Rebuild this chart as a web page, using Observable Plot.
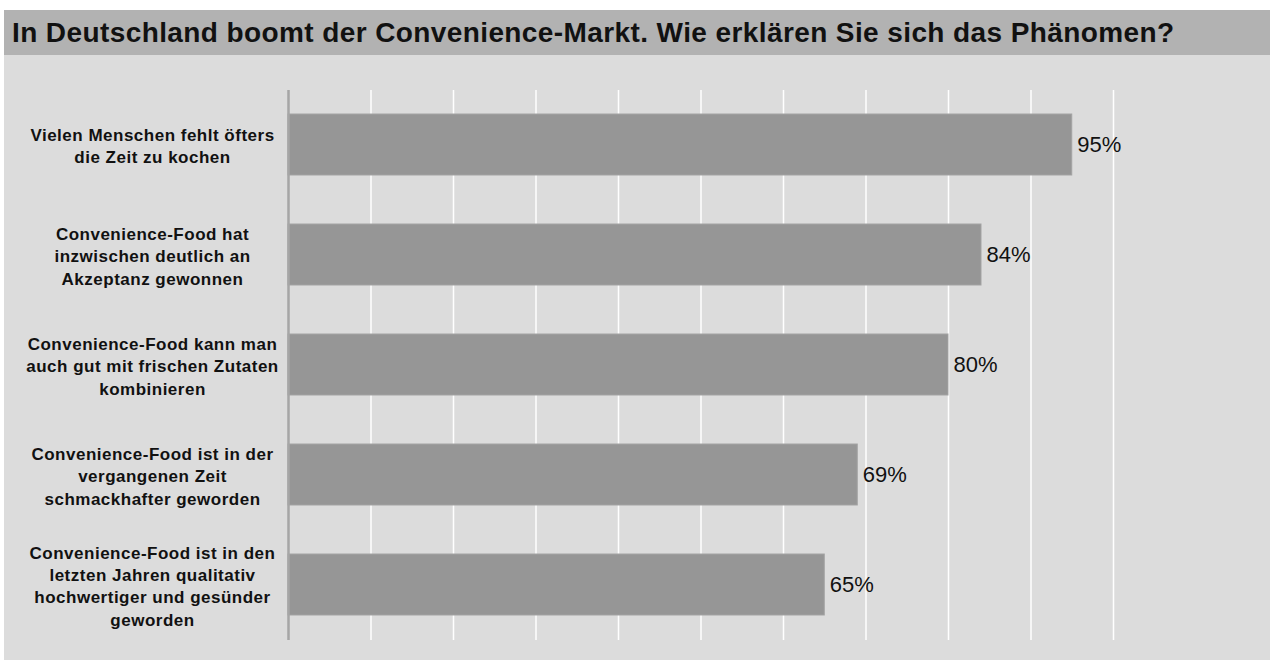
<!DOCTYPE html>
<html>
<head>
<meta charset="utf-8">
<script src="https://cdn.jsdelivr.net/npm/d3@7"></script>
<script src="https://cdn.jsdelivr.net/npm/@observablehq/plot@0.6"></script>
<style>
  html, body { margin: 0; padding: 0; background: #ffffff; }
  #panel { position: absolute; left: 4px; top: 10px; width: 1266px; background: #dcdcdc; font-family: "Liberation Sans", Arial, sans-serif; }
  #title { height: 45px; line-height: 45px; background: #b2b2b2; color: #111; font-weight: bold; font-size: 28px; letter-spacing: 0.4px; padding-left: 8px; white-space: nowrap; overflow: hidden; }
  #chart svg { display: block; }
  #chart g[font-weight="bold"] text { letter-spacing: 0.5px; }
</style>
</head>
<body>
<div id="panel">
  <div id="title">In Deutschland boomt der Convenience-Markt. Wie erklären Sie sich das Phänomen?</div>
  <div id="chart"></div>
</div>
<script>
const categories = [
  "Vielen Menschen fehlt öfters\ndie Zeit zu kochen",
  "Convenience-Food hat\ninzwischen deutlich an\nAkzeptanz gewonnen",
  "Convenience-Food kann man\nauch gut mit frischen Zutaten\nkombinieren",
  "Convenience-Food ist in der\nvergangenen Zeit\nschmackhafter geworden",
  "Convenience-Food ist in den\nletzten Jahren qualitativ\nhochwertiger und gesünder\ngeworden"
];
const values = [95, 84, 80, 69, 65];
const gridTicks = [10, 20, 30, 40, 50, 60, 70, 80, 90, 100];

const data = categories.map((c, i) => ({cat: c, value: values[i]}));

const chart = Plot.plot({
  width: 1266,
  height: 605,
  marginLeft: 284,
  marginRight: 157,
  marginTop: 35,
  marginBottom: 20,
  style: { background: "#dcdcdc", fontFamily: "'Liberation Sans', Arial, sans-serif", color: "#111" },
  x: { domain: [0, 100], axis: null },
  y: { domain: categories, paddingInner: 0.445, paddingOuter: 0.2225, axis: null },
  marks: [
    Plot.ruleX(gridTicks, { stroke: "#ffffff", strokeWidth: 1.5 }),
    Plot.barX(data, { x: "value", y: "cat", fill: "#969696", stroke: "#a3a3a3", strokeWidth: 1 }),
    Plot.ruleX([0], { stroke: "#a6a6a6", strokeWidth: 2.5 }),
    Plot.text(data, { x: "value", y: "cat", text: d => d.value + "%", textAnchor: "start", dx: 5, fontSize: 22, fill: "#111" }),
    Plot.text(data, { x: 0, y: "cat", text: "cat", textAnchor: "middle", dx: -136, fontSize: 17, fontWeight: "bold", lineHeight: 1.32, fill: "#111" })
  ]
});
document.getElementById("chart").appendChild(chart);
</script>
</body>
</html>
